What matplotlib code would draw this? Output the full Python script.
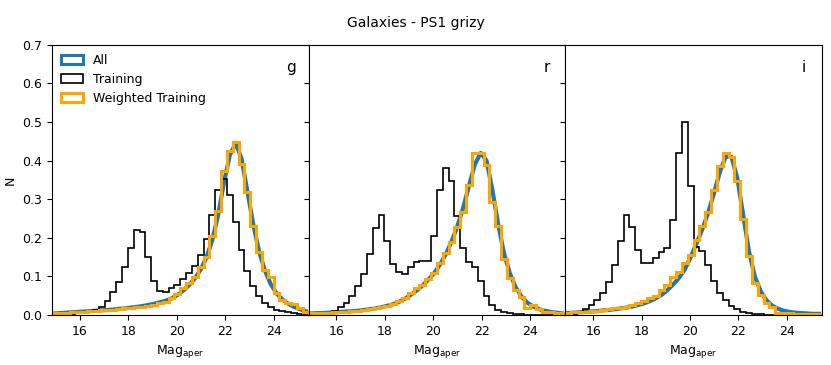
import numpy as np
import matplotlib
matplotlib.use('Agg')
import matplotlib.pyplot as plt
from matplotlib.patches import Patch

# bin edges of the histograms (44 bins)
edges = np.linspace(14.85, 25.45, 45)
centers = 0.5 * (edges[:-1] + edges[1:])

bands = ['g', 'r', 'i']

# g band
all_g = [0.004, 0.005, 0.006, 0.007, 0.008, 0.009, 0.010, 0.011, 0.012, 0.013, 0.014,
         0.016, 0.017, 0.019, 0.021, 0.023, 0.026, 0.029, 0.033, 0.037, 0.043,
         0.052, 0.063, 0.077, 0.095, 0.118, 0.150, 0.195, 0.260, 0.345, 0.415,
         0.445, 0.405, 0.320, 0.235, 0.165, 0.115, 0.080, 0.056, 0.040, 0.029,
         0.021, 0.015, 0.010]
train_g = [0.001, 0.001, 0.002, 0.003, 0.004, 0.005, 0.008, 0.013, 0.022, 0.037, 0.059,
           0.086, 0.124, 0.173, 0.220, 0.214, 0.151, 0.089, 0.063, 0.060, 0.069,
           0.078, 0.092, 0.108, 0.127, 0.156, 0.197, 0.259, 0.323, 0.352, 0.312,
           0.242, 0.169, 0.114, 0.075, 0.050, 0.032, 0.020, 0.014, 0.010, 0.007,
           0.005, 0.003, 0.002]
wtrain_g = [0.004, 0.005, 0.006, 0.007, 0.008, 0.009, 0.010, 0.011, 0.012, 0.013, 0.014,
            0.015, 0.017, 0.018, 0.020, 0.022, 0.024, 0.027, 0.030, 0.034, 0.044,
            0.054, 0.069, 0.082, 0.099, 0.125, 0.151, 0.205, 0.270, 0.374, 0.425,
            0.449, 0.391, 0.320, 0.231, 0.164, 0.117, 0.099, 0.056, 0.040, 0.031,
            0.029, 0.019, 0.009]

# r band
all_r = [0.004, 0.005, 0.005, 0.006, 0.007, 0.008, 0.009, 0.010, 0.011, 0.013, 0.015,
         0.017, 0.020, 0.024, 0.028, 0.034, 0.042, 0.052, 0.063, 0.076, 0.091,
         0.108, 0.130, 0.157, 0.190, 0.230, 0.278, 0.335, 0.390, 0.420, 0.400,
         0.325, 0.235, 0.160, 0.108, 0.072, 0.048, 0.032, 0.022, 0.015, 0.011,
         0.008, 0.006, 0.004]
train_r = [0.001, 0.002, 0.003, 0.005, 0.011, 0.020, 0.030, 0.049, 0.075, 0.106, 0.157,
           0.225, 0.258, 0.192, 0.131, 0.111, 0.106, 0.125, 0.137, 0.140, 0.140,
           0.205, 0.324, 0.380, 0.347, 0.257, 0.173, 0.138, 0.124, 0.089, 0.050,
           0.026, 0.013, 0.007, 0.005, 0.003, 0.002, 0.001, 0.001, 0.001, 0.000,
           0.000, 0.000, 0.000]
wtrain_r = [0.004, 0.005, 0.005, 0.006, 0.007, 0.008, 0.009, 0.010, 0.011, 0.013, 0.015,
            0.017, 0.020, 0.024, 0.029, 0.035, 0.045, 0.056, 0.069, 0.078, 0.092,
            0.109, 0.134, 0.160, 0.190, 0.227, 0.268, 0.337, 0.421, 0.421, 0.389,
            0.294, 0.231, 0.144, 0.095, 0.066, 0.047, 0.017, 0.026, 0.015, 0.009,
            0.007, 0.006, 0.004]

# i band
all_i = [0.005, 0.006, 0.007, 0.008, 0.009, 0.010, 0.012, 0.013, 0.015, 0.017, 0.019,
         0.022, 0.026, 0.030, 0.036, 0.043, 0.052, 0.064, 0.079, 0.096, 0.118,
         0.150, 0.185, 0.222, 0.265, 0.315, 0.370, 0.410, 0.410, 0.355, 0.260,
         0.165, 0.100, 0.062, 0.038, 0.024, 0.016, 0.011, 0.008, 0.006, 0.005,
         0.004, 0.003, 0.003]
train_i = [0.002, 0.003, 0.006, 0.015, 0.026, 0.039, 0.056, 0.086, 0.130, 0.193, 0.259,
           0.229, 0.169, 0.136, 0.134, 0.149, 0.164, 0.173, 0.245, 0.419, 0.500,
           0.334, 0.177, 0.165, 0.130, 0.089, 0.057, 0.038, 0.024, 0.015, 0.007,
           0.005, 0.003, 0.002, 0.001, 0.001, 0.001, 0.000, 0.000, 0.000, 0.000,
           0.000, 0.000, 0.000]
wtrain_i = [0.006, 0.007, 0.008, 0.009, 0.010, 0.011, 0.013, 0.015, 0.017, 0.019, 0.022,
            0.026, 0.031, 0.036, 0.043, 0.050, 0.066, 0.077, 0.099, 0.112, 0.134,
            0.156, 0.194, 0.231, 0.266, 0.324, 0.385, 0.419, 0.409, 0.348, 0.249,
            0.153, 0.082, 0.052, 0.032, 0.022, 0.006, 0.005, 0.004, 0.003, 0.003,
            0.002, 0.002, 0.002]

all_vals = [all_g, all_r, all_i]
train_vals = [train_g, train_r, train_i]
wtrain_vals = [wtrain_g, wtrain_r, wtrain_i]

blue = '#1f77b4'
orange = '#ffa500'

fig, axes = plt.subplots(1, 3, figsize=(8.31, 3.65), dpi=100, sharey=True)
fig.subplots_adjust(left=0.0626, right=0.989, top=0.877, bottom=0.137, wspace=0)

for ax, band, a, t, w in zip(axes, bands, all_vals, train_vals, wtrain_vals):
    ax.plot(centers, a, color=blue, lw=3)
    ax.hist(centers, bins=edges, weights=t, histtype='step', color='k', lw=1.2)
    ax.hist(centers, bins=edges, weights=w, histtype='step', color=orange, lw=2.2)
    ax.set_xlim(14.85, 25.45)
    ax.set_ylim(0, 0.7)
    ax.set_xticks([16, 18, 20, 22, 24])
    ax.tick_params(labelsize=9)
    ax.set_xlabel(r'Mag$_{\rm aper}$', fontsize=9)
    ax.text(0.93, 0.915, band, transform=ax.transAxes, ha='center', va='center', fontsize=11)

axes[0].set_ylabel('N', fontsize=9)

handles = [Patch(facecolor='none', edgecolor=blue, lw=2.2),
           Patch(facecolor='none', edgecolor='k', lw=1.2),
           Patch(facecolor='none', edgecolor=orange, lw=2.2)]
axes[0].legend(handles, ['All', 'Training', 'Weighted Training'], loc='upper left',
               frameon=False, fontsize=9, handlelength=1.8, borderaxespad=0.3)

fig.suptitle('Galaxies - PS1 grizy', y=0.955, fontsize=10)

plt.savefig('out.png', dpi=100)
